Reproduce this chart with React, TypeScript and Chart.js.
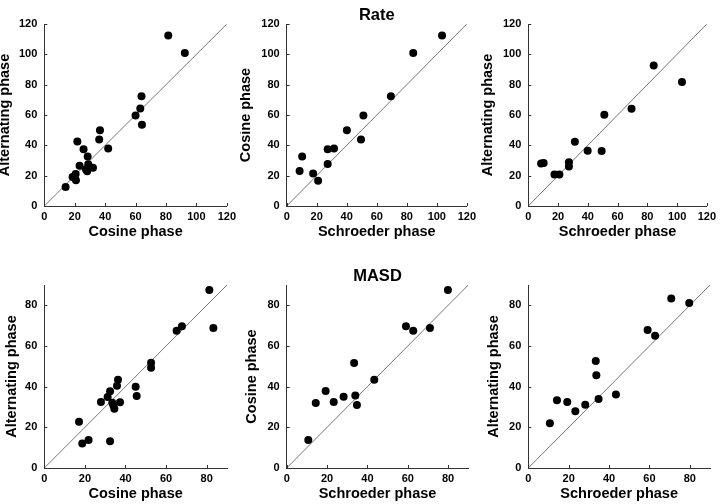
import React, { useEffect, useRef } from "react";
import { Chart, registerables } from "chart.js";

Chart.register(...registerables);

// ---------- tick labels ----------
const TOP_TICKS = [0, 20, 40, 60, 80, 100, 120];
const BOTTOM_TICKS = [0, 20, 40, 60, 80];
const TOP_MAX = 120;
const BOTTOM_MAX = 90;

// ---------- Rate ----------
const RATE_A_X = [14.0, 18.6, 20.6, 20.8, 21.7, 23.2, 25.8, 27.4, 28.2, 28.5, 28.9, 32.0, 36.1, 36.6, 42.0, 60.0, 63.1, 63.9, 64.2, 81.5, 92.4];
const RATE_A_Y = [12.6, 19.2, 21.1, 17.0, 42.5, 26.6, 37.4, 24.0, 22.9, 32.6, 27.5, 25.3, 43.8, 50.0, 37.9, 59.7, 64.3, 72.4, 53.5, 112.5, 100.8];

const RATE_B_X = [8.6, 10.3, 17.6, 20.9, 27.3, 27.3, 31.5, 40.1, 49.5, 51.1, 69.4, 84.3, 103.5];
const RATE_B_Y = [23.1, 32.6, 21.4, 16.7, 27.7, 37.4, 37.9, 50.0, 43.8, 59.7, 72.4, 100.8, 112.5];

const RATE_C_X = [8.6, 10.3, 17.6, 20.9, 27.3, 27.3, 31.3, 39.9, 49.3, 51.1, 69.4, 84.3, 103.3];
const RATE_C_Y = [28.0, 28.4, 20.7, 20.7, 28.8, 26.0, 42.3, 36.5, 36.3, 60.1, 64.1, 92.7, 81.7];

// ---------- MASD ----------
const MASD_A_X = [17.1, 18.7, 21.8, 27.9, 31.2, 32.4, 32.4, 33.5, 34.0, 34.5, 35.8, 36.3, 37.3, 45.0, 45.5, 52.6, 52.6, 65.2, 67.8, 81.3, 83.3];
const MASD_A_Y = [22.8, 12.0, 13.8, 32.5, 34.9, 37.7, 13.1, 32.1, 30.8, 29.2, 40.5, 43.4, 32.3, 40.0, 35.4, 51.8, 49.3, 67.5, 69.7, 87.5, 68.9];

const MASD_B_X = [10.7, 14.4, 19.3, 23.3, 28.2, 33.4, 34.0, 34.8, 43.4, 59.1, 62.7, 71.0, 79.9];
const MASD_B_Y = [13.8, 32.0, 37.9, 32.5, 35.1, 51.6, 35.6, 31.0, 43.4, 69.7, 67.5, 68.9, 87.5];

const MASD_C_X = [10.7, 14.2, 19.3, 23.3, 28.2, 33.4, 33.7, 34.8, 43.4, 59.1, 62.8, 70.8, 79.7];
const MASD_C_Y = [22.0, 33.3, 32.5, 27.9, 31.1, 52.6, 45.6, 33.9, 36.2, 67.9, 65.1, 83.3, 81.1];

// ---------- text ----------
const ROW_TITLES = ["Rate", "MASD"];
const X_TITLES = ["Cosine phase", "Schroeder phase", "Schroeder phase"];
const Y_TITLES_TOP = ["Alternating phase", "Cosine phase", "Alternating phase"];
const Y_TITLES_BOTTOM = ["Alternating phase", "Cosine phase", "Alternating phase"];

// ---------- styling / layout ----------
const FONT_FAMILY = "'Liberation Sans', Arial, Helvetica, sans-serif";
const AXIS_COLOR = "#333";
const DIAG_COLOR = "#777";
const CANVAS_W = 240;
const CANVAS_H = 252;

type Panel = {
  left: number;
  top: number;
  xs: number[];
  ys: number[];
  xTitle: string;
  yTitle: string;
  title?: string;
  max: number;
  ticks: number[];
  chartLeft: number;
  chartRight: number;
  chartTop: number;
  chartBottom: number;
  yTitlePad: number;
  xTitlePad: number;
  titlePadTop: number;
};

const TOP_ROW = { chartTop: 24, chartBottom: 206, xTitlePad: 11.3 };
const BOT_ROW = { chartTop: 33, chartBottom: 216, xTitlePad: 1.6 };
const COL_LEFT = [44.3, 46.7, 48.3];
const COL_RIGHT = [227, 228.3, 230];
const Y_TITLE_PAD_TOP = [-3.3, -2.3, -0.5];
const Y_TITLE_PAD_BOT = [3.0, 2.8, 5.3];

const PANELS: Panel[] = [
  { left: 0, top: 0, xs: RATE_A_X, ys: RATE_A_Y, xTitle: X_TITLES[0], yTitle: Y_TITLES_TOP[0], max: TOP_MAX, ticks: TOP_TICKS, chartLeft: COL_LEFT[0], chartRight: COL_RIGHT[0], ...TOP_ROW, yTitlePad: Y_TITLE_PAD_TOP[0], titlePadTop: 0 },
  { left: 240, top: 0, xs: RATE_B_X, ys: RATE_B_Y, xTitle: X_TITLES[1], yTitle: Y_TITLES_TOP[1], title: ROW_TITLES[0], max: TOP_MAX, ticks: TOP_TICKS, chartLeft: COL_LEFT[1], chartRight: COL_RIGHT[1], ...TOP_ROW, yTitlePad: Y_TITLE_PAD_TOP[1], titlePadTop: 0 },
  { left: 480, top: 0, xs: RATE_C_X, ys: RATE_C_Y, xTitle: X_TITLES[2], yTitle: Y_TITLES_TOP[2], max: TOP_MAX, ticks: TOP_TICKS, chartLeft: COL_LEFT[2], chartRight: COL_RIGHT[2], ...TOP_ROW, yTitlePad: Y_TITLE_PAD_TOP[2], titlePadTop: 0 },
  { left: 0, top: 252, xs: MASD_A_X, ys: MASD_A_Y, xTitle: X_TITLES[0], yTitle: Y_TITLES_BOTTOM[0], max: BOTTOM_MAX, ticks: BOTTOM_TICKS, chartLeft: COL_LEFT[0], chartRight: COL_RIGHT[0], ...BOT_ROW, yTitlePad: Y_TITLE_PAD_BOT[0], titlePadTop: 8 },
  { left: 240, top: 252, xs: MASD_B_X, ys: MASD_B_Y, xTitle: X_TITLES[1], yTitle: Y_TITLES_BOTTOM[1], title: ROW_TITLES[1], max: BOTTOM_MAX, ticks: BOTTOM_TICKS, chartLeft: COL_LEFT[1], chartRight: COL_RIGHT[1], ...BOT_ROW, yTitlePad: Y_TITLE_PAD_BOT[1], titlePadTop: 8 },
  { left: 480, top: 252, xs: MASD_C_X, ys: MASD_C_Y, xTitle: X_TITLES[2], yTitle: Y_TITLES_BOTTOM[2], max: BOTTOM_MAX, ticks: BOTTOM_TICKS, chartLeft: COL_LEFT[2], chartRight: COL_RIGHT[2], ...BOT_ROW, yTitlePad: Y_TITLE_PAD_BOT[2], titlePadTop: 8 },
];

const inwardTicks = {
  id: "inwardTicks",
  afterDraw(chart: any) {
    const { ctx, chartArea, scales } = chart;
    const xs = scales.x;
    const ys = scales.y;
    ctx.save();
    ctx.strokeStyle = AXIS_COLOR;
    ctx.lineWidth = 1;
    ctx.beginPath();
    xs.ticks.forEach((t: any) => {
      const px = Math.round(xs.getPixelForValue(t.value)) + 0.5;
      ctx.moveTo(px, chartArea.bottom);
      ctx.lineTo(px, chartArea.bottom - 3);
    });
    ys.ticks.forEach((t: any) => {
      const py = Math.round(ys.getPixelForValue(t.value)) + 0.5;
      ctx.moveTo(chartArea.left, py);
      ctx.lineTo(chartArea.left + 3, py);
    });
    ctx.stroke();
    ctx.restore();
  },
};

function ScatterPanel({ p }: { p: Panel }) {
  const ref = useRef<HTMLCanvasElement | null>(null);
  useEffect(() => {
    if (!ref.current) return;
    const tickFont = { family: FONT_FAMILY, size: 11, weight: "bold" as const };
    const titleFont = { family: FONT_FAMILY, size: 14.5, weight: "bold" as const };
    const headFont = { family: FONT_FAMILY, size: 16.5, weight: "bold" as const, lineHeight: 1 };
    const titleBox = p.title ? 16.5 + p.titlePadTop : 0;
    const chart = new Chart(ref.current, {
      type: "scatter",
      data: {
        datasets: [
          {
            data: p.xs.map((x, i) => ({ x, y: p.ys[i] })),
            backgroundColor: "#000",
            borderColor: "#000",
            pointRadius: 4,
            pointBorderWidth: 0,
            showLine: false,
          },
          {
            data: [
              { x: 0, y: 0 },
              { x: p.max, y: p.max },
            ],
            showLine: true,
            borderColor: DIAG_COLOR,
            borderWidth: 1,
            pointRadius: 0,
            fill: false,
          },
        ],
      },
      options: {
        responsive: false,
        animation: false,
        events: [],
        layout: {
          padding: {
            left: 0,
            right: CANVAS_W - p.chartRight,
            top: p.chartTop - titleBox,
            bottom: 0,
          },
        },
        plugins: {
          legend: { display: false },
          tooltip: { enabled: false },
          title: p.title
            ? {
                display: true,
                text: p.title,
                color: "#000",
                font: headFont,
                fullSize: false,
                padding: { top: p.titlePadTop, bottom: 0 },
              }
            : { display: false },
        },
        scales: {
          x: {
            type: "linear",
            position: "bottom",
            min: 0,
            max: p.max,
            grid: { display: false, drawTicks: false },
            border: { display: true, color: AXIS_COLOR, width: 1 },
            ticks: { font: tickFont, color: "#000", padding: 4, maxRotation: 0, autoSkip: false },
            afterBuildTicks: (s: any) => {
              s.ticks = p.ticks.map((v) => ({ value: v }));
            },
            afterFit: (s: any) => {
              s.height = CANVAS_H - p.chartBottom;
            },
            title: {
              display: true,
              text: p.xTitle,
              color: "#000",
              font: titleFont,
              padding: { top: 0, bottom: p.xTitlePad },
            },
          },
          y: {
            type: "linear",
            position: "left",
            min: 0,
            max: p.max,
            grid: { display: false, drawTicks: false },
            border: { display: true, color: AXIS_COLOR, width: 1 },
            ticks: { font: tickFont, color: "#000", padding: 7, autoSkip: false },
            afterBuildTicks: (s: any) => {
              s.ticks = p.ticks.map((v) => ({ value: v }));
            },
            afterFit: (s: any) => {
              s.width = p.chartLeft;
            },
            title: {
              display: true,
              text: p.yTitle,
              color: "#000",
              font: titleFont,
              padding: { top: p.yTitlePad, bottom: 0 },
            },
          },
        },
      },
      plugins: [inwardTicks],
    } as any);
    return () => chart.destroy();
  }, [p]);
  return (
    <canvas
      ref={ref}
      width={CANVAS_W}
      height={CANVAS_H}
      style={{ position: "absolute", left: p.left, top: p.top, width: CANVAS_W, height: CANVAS_H }}
    />
  );
}

export default function App() {
  return (
    <div
      style={{
        position: "absolute",
        left: 0,
        top: 0,
        width: 720,
        height: 504,
        background: "#fff",
        overflow: "hidden",
      }}
    >
      {PANELS.map((p, i) => (
        <ScatterPanel key={i} p={p} />
      ))}
    </div>
  );
}
